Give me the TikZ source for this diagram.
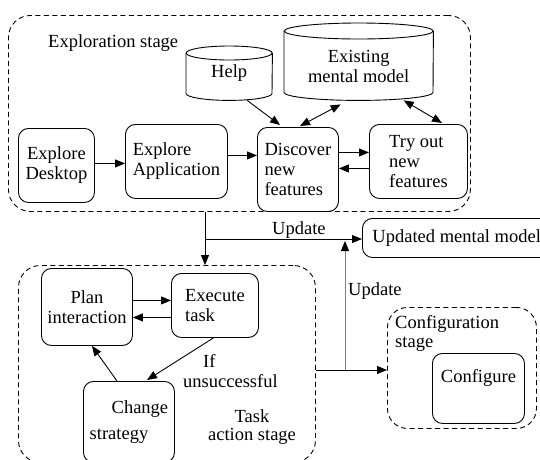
\documentclass[tikz,border=0pt]{standalone}
\usepackage{fontspec}
\setmainfont{Liberation Serif}
\usetikzlibrary{arrows.meta,calc}
\begin{document}
\begin{tikzpicture}[x=1pt,y=-1pt,
  font=\fontsize{18.5}{20}\selectfont,
  lw/.style={line width=0.9pt},
  box/.style={draw, lw, rounded corners=10pt, align=center, inner sep=2pt, anchor=north west},
  stage/.style={draw, lw, dash pattern=on 5pt off 3.5pt, rounded corners=22pt, anchor=north west, inner sep=0pt},
  cylnode/.style={inner sep=0pt, anchor=north west, align=center},
  arr/.style={lw, -{Triangle[length=10pt,width=8pt]}},
  darr/.style={lw, {Triangle[length=10pt,width=8pt]}-{Triangle[length=10pt,width=8pt]}},
  lbl/.style={anchor=base west, inner sep=0pt, align=left},
  lbltop/.style={inner sep=0pt},
]
\useasboundingbox (0,0) rectangle (540,459);
\fill[white] (0,0) rectangle (540,459);
\clip (0,0) rectangle (540,459);

% stages
\node[stage, minimum width=462pt, minimum height=196pt] (expl) at (8,15) {};
\node[lbl] (expllbl) at (48,47) {Exploration stage};
\node[stage, minimum width=297pt, minimum height=197pt] (task) at (18,265) {};
\node[stage, minimum width=149pt, minimum height=121pt, rounded corners=20pt] (conf) at (387,307) {};

% exploration boxes
\node[box, minimum width=76pt, minimum height=74pt] (ed) at (18,128) {Explore\\Desktop};
\node[box, align=left, minimum width=102pt, minimum height=74pt] (ea) at (125,124) {Explore\\Application};
\node[box, align=left, minimum width=81pt, minimum height=84pt] (disc) at (257,127) {Discover\\new\\features};
\node[box, align=left, minimum width=98pt, minimum height=74pt] (try) at (369,124) {Try out\\new\\features};

% cylinders
\node[cylnode, minimum width=86pt, minimum height=54pt] (help) at (186,46) {Help};
\draw[lw] ($(help.north)+(0,7)$) ellipse[x radius=43pt, y radius=7pt];
\draw[lw] ($(help.north west)+(0,7)$) -- ($(help.south west)+(0,-7)$)
  arc[start angle=180, end angle=360, x radius=43pt, y radius=7pt] -- ($(help.north east)+(0,7)$);

\node[cylnode, minimum width=149pt, minimum height=77pt] (ex) at (284,23) {\rule{0pt}{21.2pt}Existing\\mental model};
\draw[lw] ($(ex.north)+(0,8)$) ellipse[x radius=74.5pt, y radius=8pt];
\draw[lw] ($(ex.north west)+(0,8)$) -- ($(ex.south west)+(0,-8)$)
  arc[start angle=180, end angle=360, x radius=74.5pt, y radius=8pt] -- ($(ex.north east)+(0,8)$);

% task boxes
\node[box, minimum width=91pt, minimum height=77pt] (plan) at (41,268) {Plan\\interaction};
\node[box, align=left, minimum width=87pt, minimum height=64pt] (exec) at (171,273) {Execute\\task};
\node[box, align=left, minimum width=91pt, minimum height=81pt] (chg) at (83,381) {\hspace*{22pt}Change\\[6pt]strategy};
\node[lbltop, anchor=north west, align=left] (ifl) at (183,354.4) {\hspace*{20pt}If\\unsuccessful};
\node[lbltop, anchor=north, align=center] (tasklbl) at (252,409.7) {Task\\[-2pt]action stage};

% configuration
\node[lbltop, anchor=north west, align=left] (cfglbl) at (395,315.4) {Configuration\\[-1pt]stage};
\node[box, minimum width=92pt, minimum height=70pt] (cfg) at (432,353) {\rule[-25pt]{0pt}{38pt}Configure};

% updated mental model
\node[box, inner xsep=10pt, minimum height=39pt] (umm) at (362,218) {Updated mental model};

% connectors: exploration
\draw[arr] ([yshift=2pt]ed.east) -- ([yshift=2pt]ed.east -| ea.west);
\draw[arr] ([yshift=6pt]ea.east) -- ([yshift=6pt]ea.east -| disc.west);
\draw[arr] ($(help.south)+(18,0)$) -- ($(disc.north west)+(23,-2)$);
\draw[darr] ($(ex.south)+(-18,4)$) -- ($(disc.north west)+(43,-1)$);
\draw[darr] ($(ex.south)+(45,0)$) -- ($(try.north west)+(73,-1)$);
\draw[arr] ([yshift=17pt]disc.east) -- ([yshift=17pt]disc.east -| try.west);
\draw[arr] ([yshift=1pt]disc.east -| try.west) -- ([yshift=1pt]disc.east);

% between stages
\coordinate (j1) at (205,239);
\draw[arr] (expl.south -| j1) -- (task.north -| j1);
\draw[arr] (j1) -- (umm.west |- j1);
\node[lbl] (upd1) at (272,234) {Update};

\coordinate (j2) at (345,370);
\coordinate (j3) at (345,241);
\draw[arr] (task.east |- j2) -- (conf.west |- j2);
\draw[lw, draw=gray, -{Triangle[length=10pt,width=8pt,color=black]}] (j2) -- (j3);
\node[lbl] (upd2) at (348,295) {Update};

% connectors: task action
\draw[arr] ([yshift=6.5pt]plan.east) -- ([yshift=6.5pt]plan.east -| exec.west);
\draw[arr] ([yshift=-10.5pt]plan.east -| exec.west) -- ([yshift=-10.5pt]plan.east);
\draw[arr] ($(exec.south)+(-1.5,0)$) -- ($(chg.north west)+(64,-1)$);
\draw[arr] ($(chg.north west)+(34,0)$) -- ($(plan.south west)+(51,0)$);
\end{tikzpicture}
\end{document}
